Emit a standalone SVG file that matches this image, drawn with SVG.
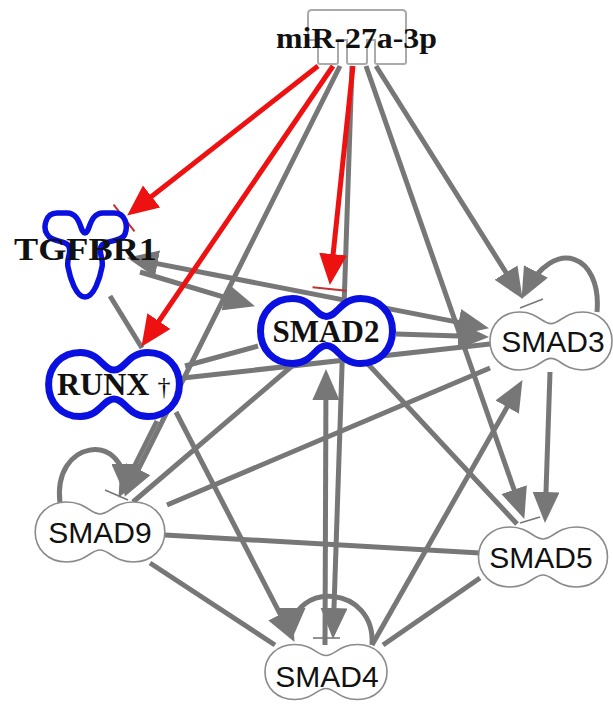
<svg xmlns="http://www.w3.org/2000/svg" xmlns:xlink="http://www.w3.org/1999/xlink" width="613" height="706" viewBox="0 0 613 706">
<style>
.e{stroke:#777;stroke-width:5;fill:none}
.r{stroke:#ee1111;stroke-width:5;fill:none}
.tk{stroke:#777;stroke-width:1.6;fill:none}
.gn{fill:#fff;stroke:#8a8a8a;stroke-width:1.6}
.bn{fill:#fff;stroke:#0a10e0;stroke-width:7}
.gt{font-family:"Liberation Sans",Arial,sans-serif;font-size:30px;fill:#111;text-anchor:middle}
.bt{font-family:"Liberation Serif","Times New Roman",serif;font-weight:bold;fill:#111}
</style>
<defs>
<marker id="ag" viewBox="0 0 31 27" refX="24" refY="13.5" markerWidth="31" markerHeight="27" markerUnits="userSpaceOnUse" orient="auto-start-reverse"><path d="M0,0 L31,13.5 L0,27 Z" fill="#777"/></marker>
<marker id="ar" viewBox="0 -6 38 40" refX="24" refY="14" markerWidth="38" markerHeight="40" markerUnits="userSpaceOnUse" orient="auto"><path d="M0,0 L31,14 L0,28 Z" fill="#ee1111"/><line x1="35" y1="-3" x2="35" y2="31" stroke="#c43030" stroke-width="2"/></marker>
<marker id="ar2" viewBox="0 0 31 28" refX="24" refY="14" markerWidth="31" markerHeight="28" markerUnits="userSpaceOnUse" orient="auto"><path d="M0,0 L31,14 L0,28 Z" fill="#ee1111"/></marker>
<path id="gs" vector-effect="non-scaling-stroke" d="M 0,-18 C 9,-18 13,-30 31,-30 C 48,-30 60,-17 60,0 C 60,17 48,30 31,30 C 13,30 9,18 0,18 C -9,18 -13,30 -31,30 C -48,30 -60,17 -60,0 C -60,-17 -48,-30 -31,-30 C -13,-30 -9,-18 0,-18 Z"/>
<path id="bs" vector-effect="non-scaling-stroke" d="M 0,-13.5 C 10,-13.5 13,-30 31,-30 C 48,-30 60,-17 60,0 C 60,17 48,30 31,30 C 13,30 10,13.5 0,13.5 C -10,13.5 -13,30 -31,30 C -48,30 -60,17 -60,0 C -60,-17 -48,-30 -31,-30 C -13,-30 -10,-13.5 0,-13.5 Z"/>
</defs>
<g id="connectors">
<line class="e" x1="110" y1="296" x2="142" y2="348"/>
<line class="e" x1="183" y1="378" x2="490" y2="344"/>
<line class="e" x1="185" y1="366" x2="258" y2="346"/>
<line class="e" x1="133" y1="502" x2="292" y2="366"/>
<line class="e" x1="167" y1="505" x2="490" y2="368"/>
<line class="e" x1="165" y1="535" x2="480" y2="553"/>
<line class="e" x1="150" y1="563" x2="275" y2="645"/>
<line class="e" x1="368" y1="364" x2="517" y2="524"/>
<line class="e" x1="480" y1="578" x2="383" y2="645"/>
<line class="e" x1="340" y1="66" x2="127.7" y2="490.6" marker-end="url(#ag)"/>
<line class="e" x1="352" y1="66" x2="333.2" y2="632" marker-end="url(#ag)"/>
<line class="e" x1="325" y1="645" x2="326" y2="376" marker-end="url(#ag)"/>
<line class="e" x1="366" y1="66" x2="522" y2="512.3" marker-end="url(#ag)"/>
<line class="e" x1="376" y1="66" x2="518.8" y2="292.9" marker-end="url(#ag)"/>
<line class="e" x1="133.9" y1="259.1" x2="482.1" y2="326.9" marker-start="url(#ag)" marker-end="url(#ag)"/>
<line class="e" x1="140" y1="272" x2="248.3" y2="304.3" marker-end="url(#ag)"/>
<line class="e" x1="157" y1="421" x2="121.7" y2="491.6" marker-end="url(#ag)"/>
<line class="e" x1="176" y1="412" x2="291.3" y2="635.7" marker-end="url(#ag)"/>
<line class="e" x1="396" y1="334" x2="482" y2="336.8" marker-end="url(#ag)"/>
<line class="e" x1="550" y1="372" x2="545.2" y2="516" marker-end="url(#ag)"/>
<line class="e" x1="372" y1="645" x2="519" y2="386.2" marker-end="url(#ag)"/>
<path class="e" d="M 597,312 C 602,255 555,235 524.8,292.7" marker-end="url(#ag)"/>
<path class="e" d="M 60,503 C 52,440 125,430 125,488" marker-end="url(#ag)"/>
<path class="e" d="M 372,645 C 376,585 292,580 292,632" marker-end="url(#ag)"/>
<line class="tk" x1="520" y1="308" x2="543" y2="299"/>
<line class="tk" x1="105" y1="490" x2="128" y2="500"/>
<line class="tk" x1="520" y1="523" x2="540" y2="517"/>
<line class="tk" x1="313" y1="638" x2="340" y2="638"/>
<line class="r" x1="318" y1="66" x2="132.7" y2="211.3" marker-end="url(#ar)"/>
<line class="r" x1="333" y1="66" x2="145.4" y2="341" marker-end="url(#ar2)"/>
<line class="r" x1="353" y1="66" x2="330.6" y2="278" marker-end="url(#ar)"/>
</g>
<g id="miR-27a-3p">
<path d="M 308,14 Q 308,10 312,10 H 402 Q 406,10 406,14 V 62 Q 406,64 404,64 H 377 Q 375,64 375,62 V 40 H 367 V 62 Q 367,64 365,64 H 349 Q 347,64 347,62 V 40 H 338 V 62 Q 338,64 336,64 H 320 Q 318,64 318,62 V 40 H 308 Z" fill="none" stroke="#aaa" stroke-width="2"/>
<text class="bt" x="276" y="48" font-size="30" textLength="161" lengthAdjust="spacingAndGlyphs">miR-27a-3p</text>
</g>
<g id="TGFBR1">
<path d="M 85,233 C 80,233 81,213 67,213 L 57,213 C 45,213 43,228 47,234 C 51,242 63,240 68,245 C 73,251 66,258 68,267 C 70,278 76,297 85,297 C 94,297 100,278 102,267 C 104,258 97,251 102,245 C 107,240 122,242 125,234 C 128,226 126,213 114,213 L 103,213 C 89,213 90,233 85,233 Z" fill="#fff" stroke="#0a10e0" stroke-width="5.5"/>
<text class="bt" x="14" y="260" font-size="32" textLength="143" lengthAdjust="spacingAndGlyphs">TGFBR1</text>
</g>
<g id="RUNX">
<use href="#bs" class="bn" transform="translate(114,384.5) scale(1.09,1.07)"/>
<text class="bt" x="57" y="395" font-size="32">RUNX <tspan font-weight="normal" font-size="26">†</tspan></text>
</g>
<g id="SMAD2">
<use href="#bs" class="bn" transform="translate(326.5,331) scale(1.1,1.083)"/>
<text class="bt" x="326" y="342" font-size="31" text-anchor="middle">SMAD2</text>
</g>
<g id="SMAD3">
<use href="#gs" class="gn" transform="translate(551,341) scale(1.017,0.967)"/>
<text class="gt" x="553" y="352">SMAD3</text>
</g>
<g id="SMAD9">
<use href="#gs" class="gn" transform="translate(100,532) scale(1.08,1)"/>
<text class="gt" x="100" y="543">SMAD9</text>
</g>
<g id="SMAD5">
<use href="#gs" class="gn" transform="translate(543,557) scale(1.075,1)"/>
<text class="gt" x="541" y="568">SMAD5</text>
</g>
<g id="SMAD4">
<use href="#gs" class="gn" transform="translate(326,672) scale(1.017,0.917)"/>
<text class="gt" x="327" y="687">SMAD4</text>
</g>
</svg>
